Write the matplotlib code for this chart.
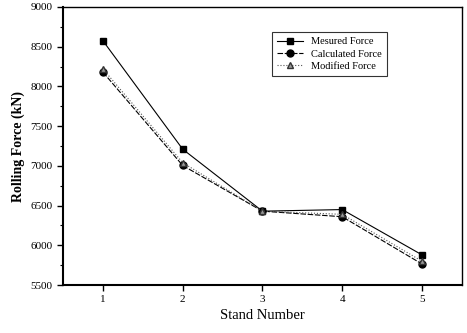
import matplotlib
matplotlib.use("Agg")
import matplotlib.pyplot as plt
from matplotlib.ticker import MultipleLocator

plt.rcParams['font.family'] = ['Liberation Serif', 'DejaVu Serif']

stands = [1, 2, 3, 4, 5]
measured = [8575, 7210, 6430, 6450, 5880]
calculated = [8180, 7005, 6430, 6360, 5765]
modified = [8220, 7040, 6430, 6390, 5800]

fig = plt.figure(figsize=(4.67, 3.33), dpi=100)
ax = fig.add_axes([0.135, 0.144, 0.854, 0.835])

ax.plot(stands, measured, color='black', lw=0.8, marker='s', ms=5,
        label='Mesured Force')
ax.plot(stands, calculated, color='black', lw=0.8, ls=(0, (5, 1.5)), marker='o', ms=5,
        label='Calculated Force')
ax.plot(stands, modified, color='#555555', lw=0.8, ls=':', marker='^', ms=4,
        markerfacecolor='#999999', markeredgecolor='#333333', label='Modified Force')

ax.set_xlim(0.5, 5.5)
ax.set_ylim(5500, 9000)
ax.set_xticks(stands)
ax.yaxis.set_major_locator(MultipleLocator(500))
ax.yaxis.set_minor_locator(MultipleLocator(250))
ax.tick_params(axis='both', which='major', direction='out', length=4, width=1,
               labelsize=8, top=False, right=False)
ax.tick_params(axis='y', which='minor', direction='out', length=2, width=0.8, right=False)

for s in ax.spines.values():
    s.set_linewidth(1.0)
ax.spines['left'].set_linewidth(1.5)
ax.spines['bottom'].set_linewidth(1.5)

ax.set_xlabel('Stand Number', fontsize=10.5, labelpad=3)
ax.set_ylabel('Rolling Force (kN)', fontsize=10, fontweight='bold', labelpad=4)

leg = ax.legend(loc='upper left', bbox_to_anchor=(0.51, 0.93), fontsize=7.5,
                frameon=True, fancybox=False, edgecolor='black', handlelength=2.5,
                borderpad=0.5, labelspacing=0.3)
leg.get_frame().set_linewidth(0.8)

fig.savefig('out.png', dpi=100)
